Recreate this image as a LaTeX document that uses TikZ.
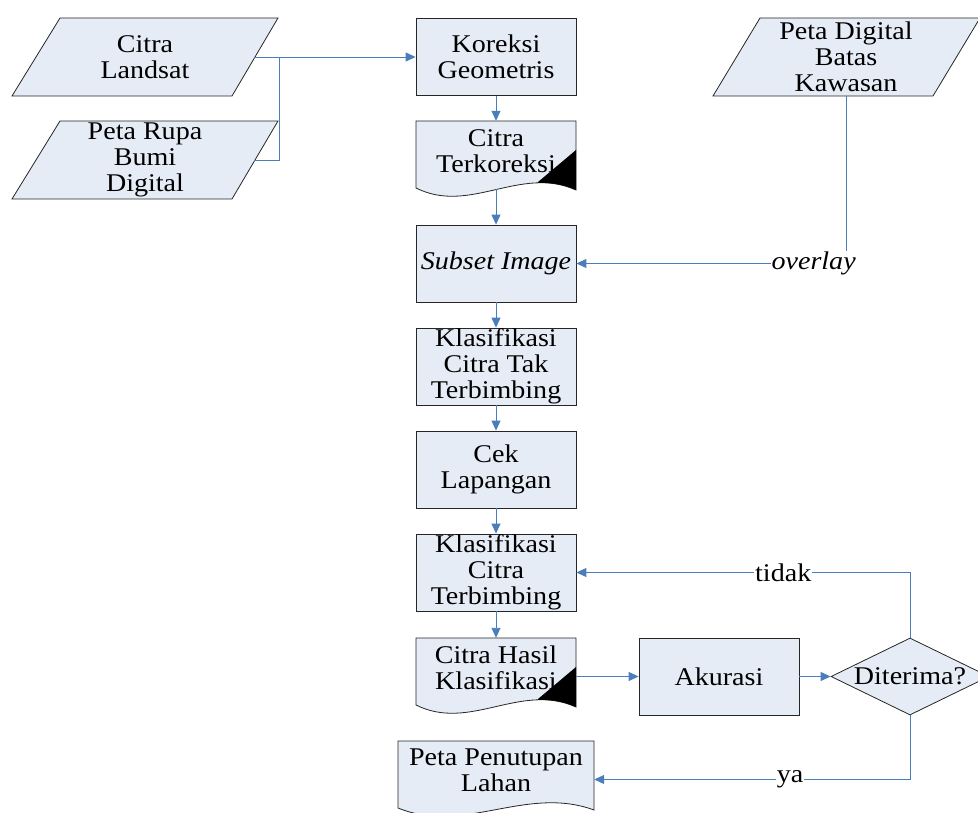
\documentclass[tikz,border=0pt]{standalone}
\usepackage{fontspec}
\setmainfont{Liberation Serif}[FakeStretch=1.1]
\usetikzlibrary{arrows.meta,shapes.geometric}
\definecolor{boxfill}{RGB}{230,236,246}
\definecolor{arrowblue}{RGB}{74,126,187}
\begin{document}
\begin{tikzpicture}[x=1pt,y=-1pt,
  txt/.style={align=center,font=\fontsize{25.5}{26}\selectfont,inner sep=0pt},
  proc/.style={txt,draw=black!85,fill=boxfill,minimum width=160pt,minimum height=77pt,line width=0.8pt},
  outline/.style={draw=black!85,fill=boxfill,line width=0.8pt},
  anchorbox/.style={inner sep=0pt},
  conn/.style={draw=arrowblue,line width=0.9pt},
  arr/.style={conn,-{Triangle[length=10pt,width=9pt]}},
  lbl/.style={font=\fontsize{25.5}{26}\selectfont,fill=white,inner sep=1pt}]
\useasboundingbox (0,0) rectangle (978,813);

% input parallelograms
\draw[outline] (60,18) -- (278,18) -- (232,96) -- (12,96) -- cycle;
\node[txt,minimum width=218pt,minimum height=78pt] (cl) at (145,57) {Citra\\Landsat};
\draw[outline] (60,121) -- (278,121) -- (232,199) -- (12,199) -- cycle;
\node[txt,minimum width=218pt,minimum height=78pt] (prb) at (145,160) {Peta Rupa\\Bumi\\Digital};
\draw[outline] (760,18) -- (980,18) -- (933,96) -- (713,96) -- cycle;
\node[txt,minimum width=170pt,minimum height=78pt] (pd) at (846,57) {Peta Digital\\Batas\\Kawasan};

% process boxes
\node[proc] (kg) at (496,57) {Koreksi\\Geometris};
\node[proc] (si) at (496,263.5) {\itshape Subset Image};
\node[proc] (kct) at (496,366.5) {Klasifikasi\\Citra Tak\\Terbimbing};
\node[proc] (cek) at (496,469.5) {Cek\\Lapangan};
\node[proc] (kt) at (496,572.5) {Klasifikasi\\Citra\\Terbimbing};
\node[proc] (ak) at (719,676.5) {Akurasi};
\node[txt,shape=diamond,aspect=2,draw=black!85,fill=boxfill,line width=0.8pt,minimum width=158pt,minimum height=77pt] (dt) at (910,676.5) {Diterima?};

% document: Citra Terkoreksi
\path[outline] (416,121) -- (576,121) -- (576,190) .. controls (520,165) and (470,215) .. (416,188) -- cycle;
\begin{scope}
  \clip (416,121) -- (576,121) -- (576,190) .. controls (520,165) and (470,215) .. (416,188) -- cycle;
  \fill[black] (576,150) -- (538,182) -- (538,240) -- (600,240) -- (600,150) -- cycle;
\end{scope}
\node[anchorbox,minimum width=160pt,minimum height=68pt] (ct) at (496,155) {};
\node[txt] (ctt) at (496,151) {Citra\\Terkoreksi};

% document: Citra Hasil Klasifikasi
\begin{scope}[shift={(0,517)}]
\path[outline] (416,121) -- (576,121) -- (576,190) .. controls (520,165) and (470,215) .. (416,188) -- cycle;
\begin{scope}
  \clip (416,121) -- (576,121) -- (576,190) .. controls (520,165) and (470,215) .. (416,188) -- cycle;
  \fill[black] (576,150) -- (538,182) -- (538,240) -- (600,240) -- (600,150) -- cycle;
\end{scope}
\end{scope}
\node[anchorbox,minimum width=160pt,minimum height=77pt] (chk) at (496,676.5) {};
\node[txt] (chkt) at (496,668) {Citra Hasil\\Klasifikasi};

% document: Peta Penutupan Lahan
\path[outline] (398,741) -- (594,741) -- (594,810) .. controls (526,785) and (464,835) .. (398,808) -- cycle;
\node[anchorbox,minimum width=196pt,minimum height=77pt] (ppl) at (496,779.5) {};
\node[txt] (pplt) at (496,770) {Peta Penutupan\\Lahan};

% connectors
\coordinate (j) at (279,57);
\draw[arr] (cl.east) -- (kg.west);
\draw[conn] (prb.east) -| (j);
\draw[arr] (kg.south) -- (ct.north);
\draw[arr] (ct.south) -- (si.north);
\draw[arr] (si.south) -- (kct.north);
\draw[arr] (kct.south) -- (cek.north);
\draw[arr] (cek.south) -- (kt.north);
\draw[arr] (kt.south) -- (chk.north);
\draw[arr] (chk.east) -- (ak.west);
\draw[arr] (ak.east) -- (dt.west);
\draw[arr] (dt.north) |- node[lbl,pos=0.69]{tidak} (kt.east);
\draw[arr] (dt.south) |- node[lbl,pos=0.69]{ya} (ppl.east);
\draw[arr] (pd.south) |- node[lbl,pos=0.56]{\itshape overlay} (si.east);
\end{tikzpicture}
\end{document}
